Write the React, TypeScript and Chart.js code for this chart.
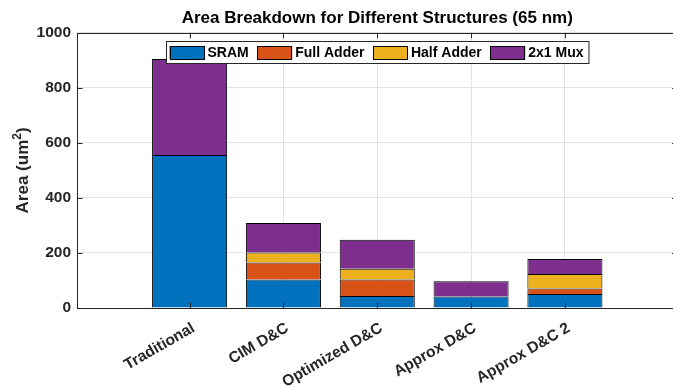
import { useEffect, useRef } from "react";
import { Chart, registerables } from "chart.js";

Chart.register(...registerables);

// Structures compared along the x axis
const categories = ["Traditional", "CIM D&C", "Optimized D&C", "Approx D&C", "Approx D&C 2"];

// Area contribution of each block (um^2), stacked bottom to top
const sram = [556, 104, 44, 42, 51];
const fullAdder = [0, 61, 60, 0, 20];
const halfAdder = [0, 37, 39, 0, 53];
const mux = [349, 107, 105, 55, 54];

const seriesNames = ["SRAM", "Full Adder", "Half Adder", "2x1 Mux"];
const seriesColors = ["#0072BD", "#D95319", "#EDB120", "#7E2F8E"];

const yTicks = [0, 200, 400, 600, 800, 1000];

const FONT = '"Liberation Sans", Arial, Helvetica, sans-serif';
const AXIS = "#262626";
const GRID = "#e4e4e4";

// Boxed axes with inward tick marks, drawn over the bars like the axis layer
const framePlugin = {
  id: "frame",
  afterDatasetsDraw(chart: any) {
    const { ctx, chartArea: a, scales } = chart;
    const tl = 5.5;
    ctx.save();
    ctx.strokeStyle = AXIS;
    ctx.lineWidth = 1;
    ctx.beginPath();
    for (const v of yTicks) {
      const y = Math.round(scales.y.getPixelForValue(v)) + 0.5;
      ctx.moveTo(a.left, y);
      ctx.lineTo(a.left + tl, y);
      ctx.moveTo(a.right, y);
      ctx.lineTo(a.right - tl, y);
    }
    categories.forEach((_, i) => {
      const x = Math.round(scales.x.getPixelForValue(i + 1)) + 0.5;
      ctx.moveTo(x, a.bottom);
      ctx.lineTo(x, a.bottom - tl);
      ctx.moveTo(x, a.top);
      ctx.lineTo(x, a.top + tl);
    });
    ctx.stroke();
    ctx.strokeRect(
      Math.round(a.left) + 0.5,
      Math.round(a.top) + 0.5,
      Math.round(a.right - a.left),
      Math.round(a.bottom - a.top)
    );
    ctx.restore();
  },
  afterDraw(chart: any) {
    const { ctx, chartArea: a } = chart;

    // Y-axis label with a raised exponent
    ctx.save();
    const mainFont = `bold 17px ${FONT}`;
    const supFont = `bold 12px ${FONT}`;
    const parts = [
      { t: "Area (um", f: mainFont, dy: 0 },
      { t: "2", f: supFont, dy: -7 },
      { t: ")", f: mainFont, dy: 0 },
    ];
    const pw = parts.map((p) => {
      ctx.font = p.f;
      return ctx.measureText(p.t).width;
    });
    const totalW = pw.reduce((s, w) => s + w, 0);
    ctx.translate(27.5, (a.top + a.bottom) / 2);
    ctx.rotate(-Math.PI / 2);
    ctx.fillStyle = AXIS;
    ctx.textBaseline = "alphabetic";
    ctx.textAlign = "left";
    let lx = -totalW / 2;
    parts.forEach((p, i) => {
      ctx.font = p.f;
      ctx.fillText(p.t, lx, p.dy);
      lx += pw[i];
    });
    ctx.restore();

    // Legend box placed inside the plot, centred near the top
    ctx.save();
    ctx.font = `bold 14px ${FONT}`;
    const sw = 35;
    const sh = 13;
    const padL = 3;
    const gapText = 3;
    const gapItem = 8.5;
    const padR = 5.5;
    const widths = seriesNames.map((n) => ctx.measureText(n).width);
    let total = padL + padR;
    widths.forEach((w, i) => {
      total += sw + gapText + w + (i < widths.length - 1 ? gapItem : 0);
    });
    const boxH = 22;
    const bx = Math.round((a.left + a.right) / 2 - total / 2) + 0.5;
    const by = Math.round(a.top + 8) + 0.5;
    ctx.fillStyle = "#ffffff";
    ctx.fillRect(bx, by, total, boxH);
    ctx.strokeStyle = AXIS;
    ctx.lineWidth = 1;
    ctx.strokeRect(bx, by, total, boxH);
    let x = bx + padL;
    const cy = by + boxH / 2;
    seriesNames.forEach((name, i) => {
      ctx.fillStyle = seriesColors[i];
      ctx.fillRect(x, cy - sh / 2, sw, sh);
      ctx.strokeStyle = "#000";
      ctx.strokeRect(Math.round(x) + 0.5, Math.round(cy - sh / 2) + 0.5, sw - 1, sh);
      ctx.fillStyle = "#000";
      ctx.textBaseline = "middle";
      ctx.textAlign = "left";
      ctx.fillText(name, x + sw + gapText, cy + 0.5);
      x += sw + gapText + widths[i] + gapItem;
    });
    ctx.restore();
  },
};

export default function App() {
  const canvasRef = useRef<HTMLCanvasElement | null>(null);

  useEffect(() => {
    const canvas = canvasRef.current;
    if (!canvas) return;
    const series = [sram, fullAdder, halfAdder, mux];
    const chart = new Chart(canvas, {
      type: "bar",
      data: {
        datasets: series.map((vals, k) => ({
          label: seriesNames[k],
          data: vals.map((v, i) => ({ x: i + 1, y: v })),
          backgroundColor: seriesColors[k],
          borderColor: "#000000",
          borderWidth: 1,
          barPercentage: 1,
          categoryPercentage: 0.8,
        })),
      },
      options: {
        animation: false,
        responsive: false,
        devicePixelRatio: 1,
        layout: { padding: { left: 0, right: 2.5, top: 0, bottom: 0 } },
        plugins: {
          legend: { display: false },
          tooltip: { enabled: false },
          title: {
            display: true,
            fullSize: false,
            text: "Area Breakdown for Different Structures (65 nm)",
            color: "#000000",
            font: { family: FONT, size: 17, weight: "bold" },
            padding: { top: 8.5, bottom: 3.9 },
          },
        },
        scales: {
          x: {
            type: "linear",
            stacked: true,
            offset: false,
            min: -0.2,
            max: 6.2,
            afterBuildTicks: (s: any) => {
              s.ticks = categories.map((_, i) => ({ value: i + 1 }));
            },
            afterFit: (s: any) => {
              s.height = 79;
            },
            ticks: {
              autoSkip: false,
              minRotation: 30,
              maxRotation: 30,
              labelOffset: 4,
              padding: 11,
              color: AXIS,
              font: { family: FONT, size: 15.5, weight: "bold" },
              callback: (_v: any, i: number) => categories[i] ?? "",
            },
            grid: { color: GRID, drawTicks: false, offset: false },
            border: { display: false },
          },
          y: {
            stacked: true,
            min: 0,
            max: 1000,
            afterBuildTicks: (s: any) => {
              s.ticks = yTicks.map((v) => ({ value: v }));
            },
            afterFit: (s: any) => {
              s.width = 77;
            },
            ticks: {
              padding: 6,
              color: AXIS,
              font: { family: FONT, size: 15.5, weight: "bold" },
              callback: (v: any) => String(v),
            },
            grid: { color: GRID, drawTicks: false },
            border: { display: false },
          },
        },
      },
      plugins: [framePlugin],
    } as any);
    return () => chart.destroy();
  }, []);

  return (
    <div
      style={{
        position: "fixed",
        left: 0,
        top: 0,
        width: 673,
        height: 387,
        overflow: "hidden",
        background: "#ffffff",
      }}
    >
      <canvas ref={canvasRef} width={680} height={387} style={{ display: "block" }} />
    </div>
  );
}
